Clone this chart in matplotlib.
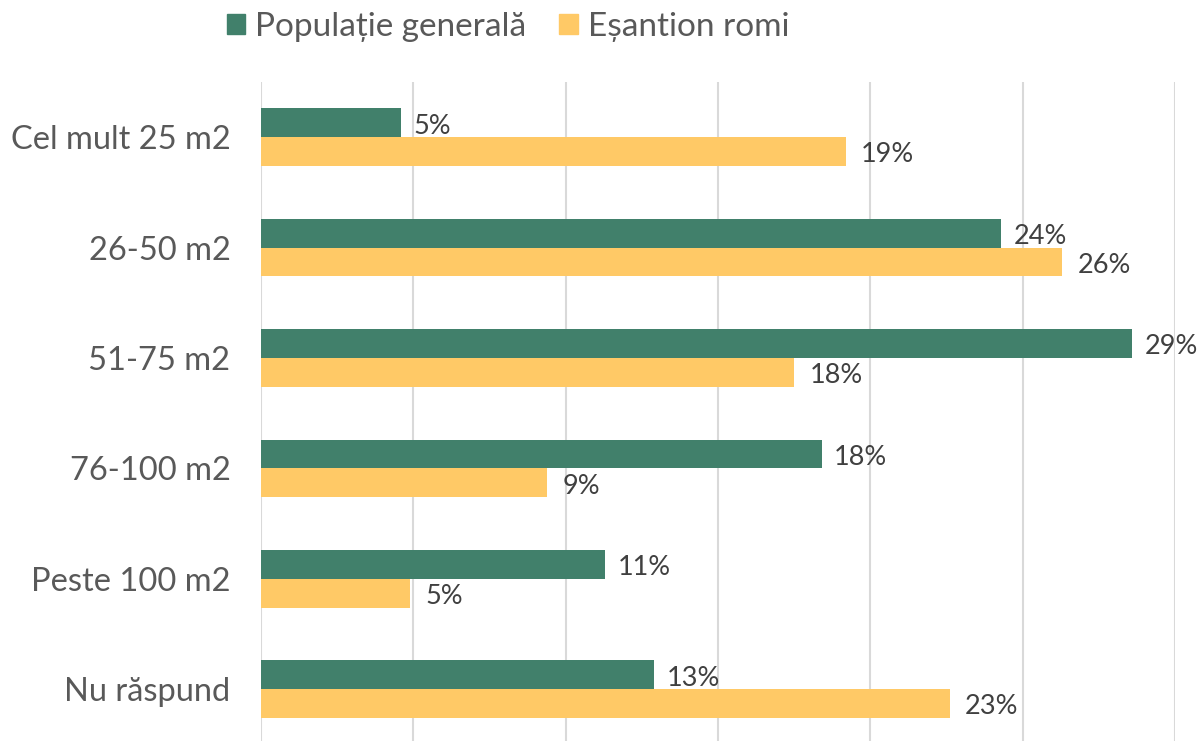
import matplotlib
matplotlib.use("Agg")
import matplotlib.pyplot as plt
import numpy as np
from matplotlib.patches import Patch

# data (percent)
categories = ["Cel mult 25 m2", "26-50 m2", "51-75 m2", "76-100 m2", "Peste 100 m2", "Nu răspund"]
populatie = [4.6, 24.3, 28.6, 18.4, 11.3, 12.9]
romi = [19.2, 26.3, 17.5, 9.4, 4.9, 22.6]
labels_pop = ["5%", "24%", "29%", "18%", "11%", "13%"]
labels_romi = ["19%", "26%", "18%", "9%", "5%", "23%"]
series_names = ["Populație generală", "Eșantion romi"]

GREEN = "#41806B"
YELLOW = "#FFC966"
GRID = "#D9D9D9"

plt.rcParams["font.family"] = ["Lato", "DejaVu Sans"]

fig = plt.figure(figsize=(11.99, 7.41), dpi=100)
ax = fig.add_axes([261 / 1199, 0, (1175 - 261) / 1199, (741 - 82) / 741])

y = np.arange(len(categories))
h = 0.26
ax.barh(y - h / 2, populatie, height=h, color=GREEN, zorder=3)
ax.barh(y + h / 2, romi, height=h, color=YELLOW, zorder=3)

# value labels, a little to the right of each bar end
for i in range(len(categories)):
    ax.annotate(labels_pop[i], (populatie[i], y[i] - h / 2 + 0.03), xytext=(9, 0),
                textcoords="offset points", va="center", ha="left",
                fontsize=19.5, color="#404040", zorder=4)
    ax.annotate(labels_romi[i], (romi[i], y[i] + h / 2 + 0.03), xytext=(11, 0),
                textcoords="offset points", va="center", ha="left",
                fontsize=19.5, color="#404040", zorder=4)

ax.set_xlim(0, 30)
ax.set_ylim(-0.5 + 659 / 110.4, -0.5)
ax.set_xticks(np.arange(0, 31, 5))
ax.xaxis.grid(True, color=GRID, linewidth=1.5, zorder=0)
ax.tick_params(axis="x", length=0, labelbottom=False)
ax.set_yticks(y)
ax.set_yticklabels(categories, fontsize=23.5, color="#595959")
ax.tick_params(axis="y", length=0, pad=22)
for s in ax.spines.values():
    s.set_visible(False)

handles = [Patch(color=GREEN), Patch(color=YELLOW)]
fig.legend(handles, series_names, loc="center", bbox_to_anchor=(508 / 1199, 1 - 27 / 741),
           ncol=2, frameon=False, fontsize=24, handlelength=0.55, handleheight=0.55,
           handletextpad=0.3, columnspacing=1.0, labelcolor="#595959")

fig.savefig("out.png", dpi=100)
